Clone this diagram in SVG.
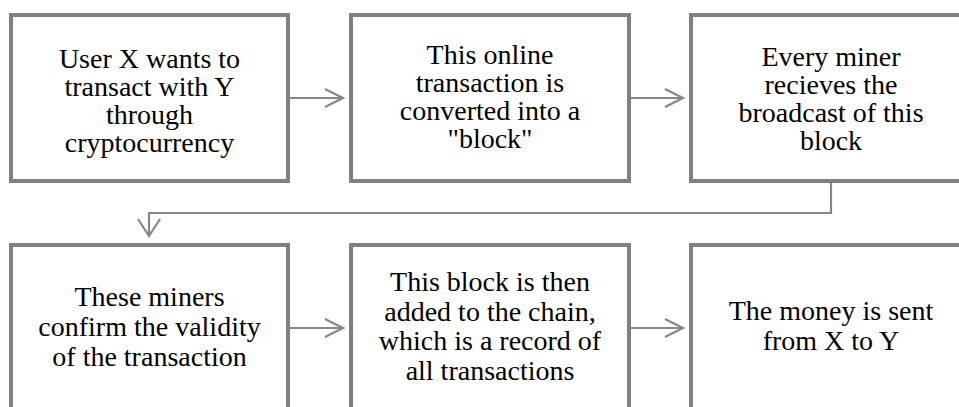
<svg xmlns="http://www.w3.org/2000/svg" width="959" height="407" viewBox="0 0 959 407">
<style>
.box{fill:#ffffff;stroke:#808080;stroke-width:4}
.t{font-family:"Liberation Serif","Times New Roman",serif;font-size:28px;fill:#000;text-anchor:middle}
.c{fill:none;stroke:#878787;stroke-width:2.2}
</style>
<rect width="959" height="407" fill="#ffffff"/>
<g id="connectors">
<path class="c" d="M289,98 H343 M325,89 L343,98 L325,107"/>
<path class="c" d="M629,98 H683 M665,89 L683,98 L665,107"/>
<path class="c" d="M831,183 V213 H149 V236 M138,219 L149,236 L160,219"/>
<path class="c" d="M289,328 H343 M325,319 L343,328 L325,337"/>
<path class="c" d="M629,328 H683 M665,319 L683,328 L665,337"/>
</g>
<g id="node1">
<rect class="box" x="11" y="15" width="277" height="166"/>
<text class="t" x="149.5"><tspan x="149.5" y="68">User X wants to</tspan><tspan x="149.5" y="96">transact with Y</tspan><tspan x="149.5" y="124">through</tspan><tspan x="149.5" y="152">cryptocurrency</tspan></text>
</g>
<g id="node2">
<rect class="box" x="351" y="15" width="278" height="166"/>
<text class="t" x="490"><tspan x="490" y="64">This online</tspan><tspan x="490" y="92">transaction is</tspan><tspan x="490" y="120">converted into a</tspan><tspan x="490" y="148">"block"</tspan></text>
</g>
<g id="node3">
<rect class="box" x="691" y="15" width="280" height="166"/>
<text class="t" x="831"><tspan x="831" y="66">Every miner</tspan><tspan x="831" y="94">recieves the</tspan><tspan x="831" y="122">broadcast of this</tspan><tspan x="831" y="150">block</tspan></text>
</g>
<g id="node4">
<rect class="box" x="11" y="245" width="277" height="166"/>
<text class="t" x="149.5"><tspan x="149.5" y="306">These miners</tspan><tspan x="149.5" y="336">confirm the validity</tspan><tspan x="149.5" y="366">of the transaction</tspan></text>
</g>
<g id="node5">
<rect class="box" x="351" y="245" width="278" height="166"/>
<text class="t" x="490"><tspan x="490" y="291">This block is then</tspan><tspan x="490" y="320.5">added to the chain,</tspan><tspan x="490" y="350">which is a record of</tspan><tspan x="490" y="379.5">all transactions</tspan></text>
</g>
<g id="node6">
<rect class="box" x="691" y="245" width="280" height="166"/>
<text class="t" x="831"><tspan x="831" y="320">The money is sent</tspan><tspan x="831" y="350">from X to Y</tspan></text>
</g>
</svg>
